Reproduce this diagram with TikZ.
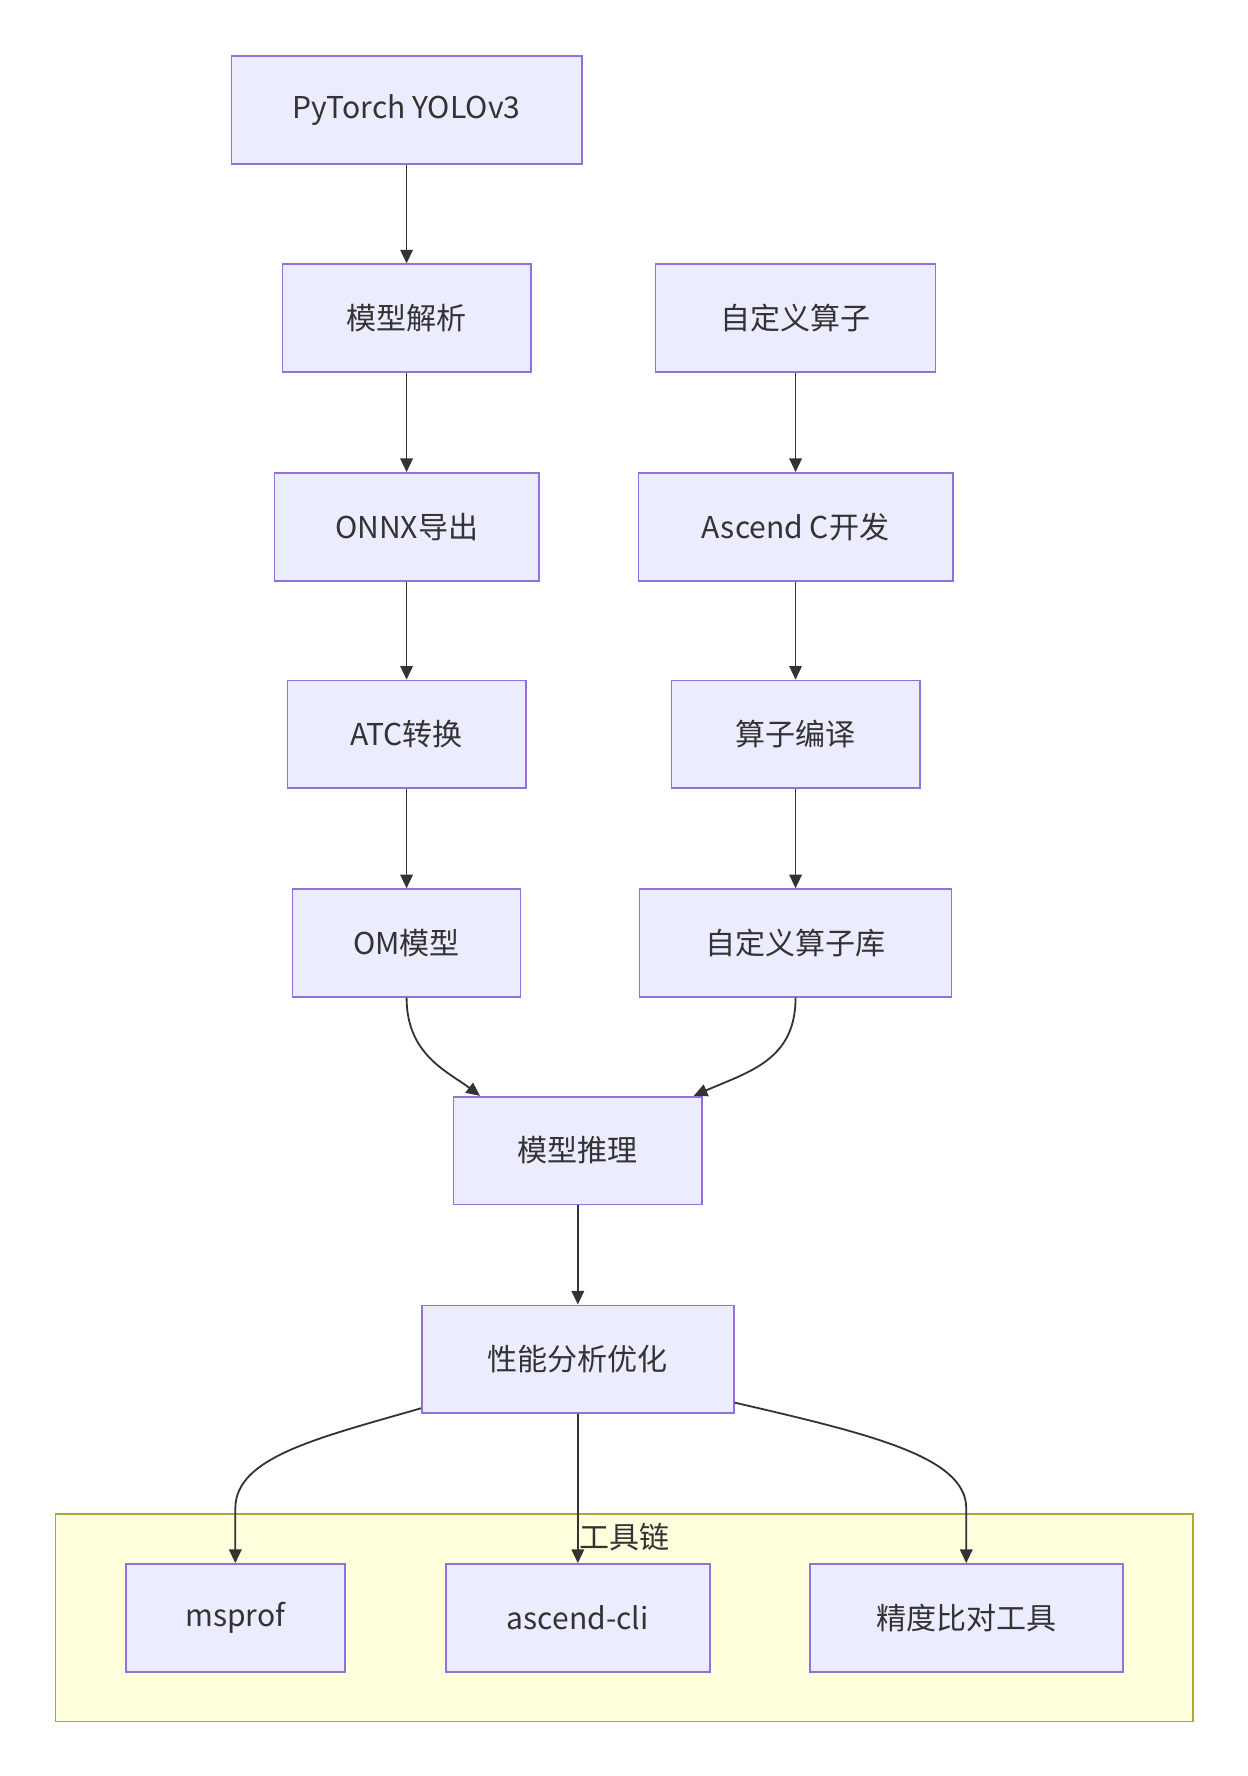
\documentclass[tikz,border=0pt]{standalone}
\usepackage{fontspec}
\setmainfont{Noto Sans CJK SC}
\usetikzlibrary{arrows.meta}
\definecolor{boxfill}{HTML}{ECECFF}
\definecolor{boxborder}{HTML}{9370DB}
\definecolor{edgec}{HTML}{333333}
\definecolor{txt}{HTML}{333333}
\definecolor{grpfill}{HTML}{FFFFDE}
\definecolor{grpborder}{HTML}{AAAA33}
\begin{document}
\begin{tikzpicture}[x=1pt,y=-1pt,
  box/.style={draw=boxborder, fill=boxfill, line width=1.5pt, minimum height=95pt, inner sep=0pt, font=\fontsize{26.5}{30}\selectfont, text=txt},
  arr/.style={draw=edgec, line width=1.6pt, -{Triangle[length=12pt,width=11pt]}},
  grp/.style={draw=grpborder, fill=grpfill, line width=1.5pt}]
\useasboundingbox[fill=white] (0,0) rectangle (1100,1566);
% group
\node[grp, minimum width=1003pt, minimum height=183pt, inner sep=0pt] (grp) at (550.5,1426.5) {};
\node[font=\fontsize{26.5}{30}\selectfont, text=txt, inner sep=0pt] (grplabel) at (551,1355) {工具链};
% left column
\node[box, minimum width=309pt] (py) at (358.5,97) {PyTorch YOLOv3};
\node[box, minimum width=219pt] (parse) at (358.5,280.5) {模型解析};
\node[box, minimum width=233pt] (onnx) at (358.5,464.5) {ONNX导出};
\node[box, minimum width=210pt] (atc) at (358.5,647.5) {ATC转换};
\node[box, minimum width=201pt] (om) at (358.5,831.5) {OM模型};
% right column
\node[box, minimum width=247pt] (cop) at (701.5,280.5) {自定义算子};
\node[box, minimum width=277pt] (asc) at (701.5,464.5) {Ascend C开发};
\node[box, minimum width=219pt] (comp) at (701.5,647.5) {算子编译};
\node[box, minimum width=275pt] (lib) at (701.5,831.5) {自定义算子库};
% center
\node[box, minimum width=219pt] (infer) at (509.5,1014.5) {模型推理};
\node[box, minimum width=275pt] (perf) at (509.5,1198.5) {性能分析优化};
% tools
\node[box, minimum width=193pt] (msprof) at (207.5,1426.5) {msprof};
\node[box, minimum width=233pt] (cli) at (509.5,1426.5) {ascend-cli};
\node[box, minimum width=276pt] (acc) at (852,1426.5) {精度比对工具};
% edges
\draw[arr] (py) -- (parse);
\draw[arr] (parse) -- (onnx);
\draw[arr] (onnx) -- (atc);
\draw[arr] (atc) -- (om);
\draw[arr] (cop) -- (asc);
\draw[arr] (asc) -- (comp);
\draw[arr] (comp) -- (lib);
\draw[arr] (om.south) .. controls (358.5,930) and (395,945) .. ([xshift=24pt]infer.north west);
\draw[arr] (lib.south) .. controls (701.5,935) and (660,945) .. ([xshift=-8pt]infer.north east);
\draw[arr] (infer) -- (perf);
\draw[arr] (perf) -- (cli);
\draw[arr] ([yshift=5pt]perf.south west) .. controls (280,1268) and (207.5,1285) .. (207.5,1330) -- (msprof.north);
\draw[arr] ([yshift=10pt]perf.south east) .. controls (770,1265) and (852,1285) .. (852,1330) -- (acc.north);
\end{tikzpicture}
\end{document}
